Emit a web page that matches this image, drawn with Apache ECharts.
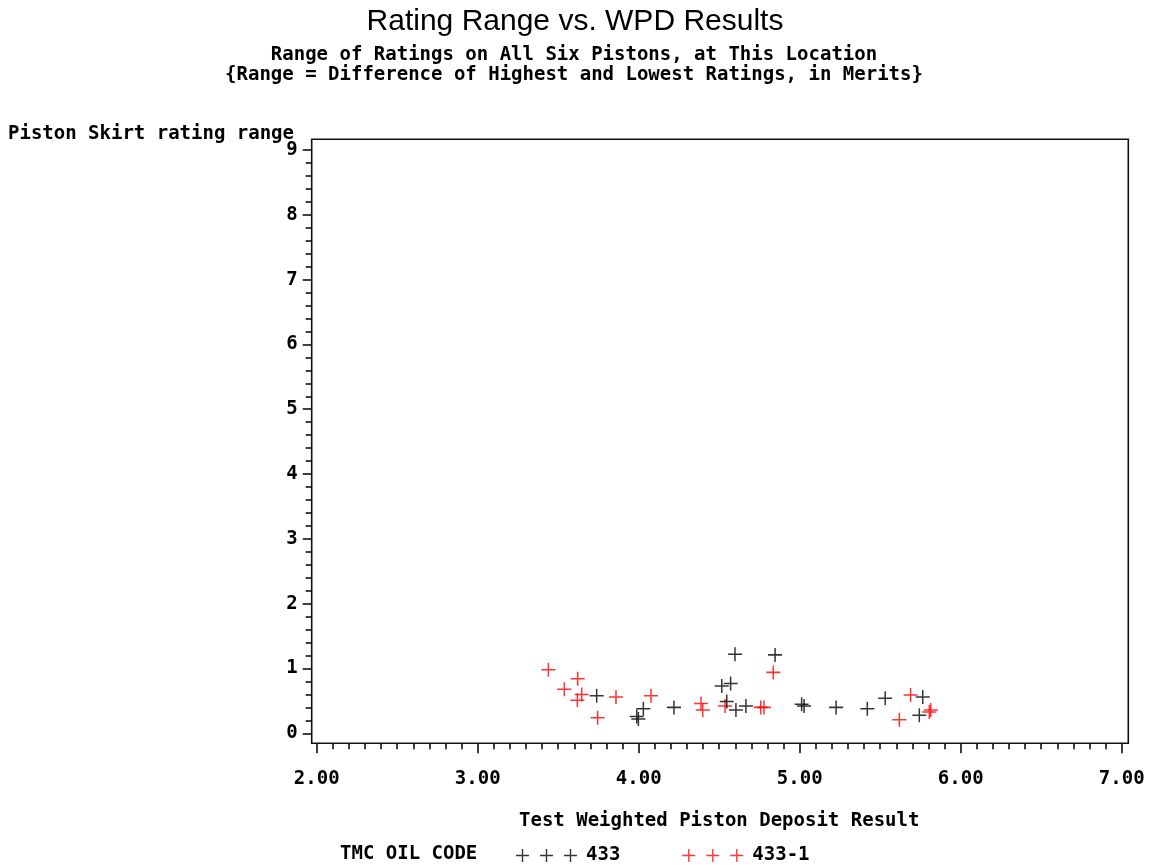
<!DOCTYPE html>
<html>
<head>
<meta charset="utf-8">
<script src="https://cdn.jsdelivr.net/npm/echarts@6/dist/echarts.min.js"></script>
<style>
  html, body { margin: 0; padding: 0; background: #fff; }
  #chart { width: 1150px; height: 865px; }
</style>
</head>
<body>
<div id="chart"></div>
<script>
// Test WPD result (x) and piston skirt rating range in merits (y), per oil code
const oil433X = [3.739, 3.988, 3.998, 4.029, 4.219, 4.516, 4.571, 4.598, 4.547, 4.604, 4.666, 4.847, 5.012, 5.027, 5.226, 5.420, 5.531, 5.764, 5.743];
const oil433Y = [0.58, 0.26, 0.22, 0.38, 0.40, 0.73, 0.77, 1.22, 0.49, 0.36, 0.42, 1.21, 0.45, 0.42, 0.40, 0.38, 0.54, 0.56, 0.28];

const oil4331X = [3.439, 3.538, 3.621, 3.646, 3.619, 3.745, 3.859, 4.076, 4.387, 4.398, 4.536, 4.836, 4.758, 4.778, 5.689, 5.619, 5.805, 5.814];
const oil4331Y = [0.98, 0.68, 0.84, 0.60, 0.51, 0.24, 0.56, 0.58, 0.46, 0.36, 0.42, 0.94, 0.40, 0.40, 0.59, 0.21, 0.33, 0.36];

const seriesNames = ['433', '433-1'];
const seriesColors = ['#000000', '#ff0000'];
const xTickLabels = ['2.00', '3.00', '4.00', '5.00', '6.00', '7.00'];
const yTickLabels = ['0', '1', '2', '3', '4', '5', '6', '7', '8', '9'];

const MONO = '"DejaVu Sans Mono", "Liberation Mono", monospace';

// Plot area
const G = { left: 316.7, right: 1121.7, top: 150, bottom: 733.3 };
// Outer frame drawn a little outside the data range
const FRAME = { x: 311.7, y: 139.3, w: 1128.3 - 311.7, h: 743.3 - 139.3 };

// Thin "+" marker
const PLUS = 'path://M5.8,0H7.2V13H5.8Z M0,5.8H13V7.2H0Z';
// Legend sample: three "+" marks in a row
const PLUS3 = 'path://M5.8,0H7.2V13H5.8Z M0,5.8H13V7.2H0Z ' +
  'M29.8,0H31.2V13H29.8Z M24,5.8H37V7.2H24Z ' +
  'M53.8,0H55.2V13H53.8Z M48,5.8H61V7.2H48Z';

function pairs(xs, ys) { return xs.map((x, i) => [x, ys[i]]); }

const chart = echarts.init(document.getElementById('chart'), null, { renderer: 'canvas' });

chart.setOption({
  backgroundColor: '#ffffff',
  animation: false,
  grid: {
    left: G.left,
    top: G.top,
    width: G.right - G.left,
    height: G.bottom - G.top,
    containLabel: false
  },
  xAxis: {
    type: 'value',
    min: 2, max: 7, interval: 1,
    offset: 10,
    name: 'Test Weighted Piston Deposit Result',
    nameLocation: 'middle',
    nameGap: 68,
    nameTextStyle: { fontFamily: MONO, fontWeight: 'bold', fontSize: 19, color: '#000' },
    axisLine: { show: false, onZero: false },
    axisTick: { show: true, length: 10, inside: false, lineStyle: { color: '#000', width: 1.5 } },
    minorTick: { show: true, splitNumber: 10, length: 6, lineStyle: { color: '#000', width: 1.5 } },
    splitLine: { show: false },
    axisLabel: {
      margin: 26,
      fontFamily: MONO, fontWeight: 'bold', fontSize: 19, color: '#000',
      formatter: v => xTickLabels[Math.round(v - 2)]
    }
  },
  yAxis: {
    type: 'value',
    min: 0, max: 9, interval: 1,
    offset: 5,
    axisLine: { show: false, onZero: false },
    axisTick: { show: true, length: 9, lineStyle: { color: '#000', width: 1.5 } },
    minorTick: { show: true, splitNumber: 5, length: 6, lineStyle: { color: '#000', width: 1.5 } },
    splitLine: { show: false },
    axisLabel: {
      margin: 14,
      fontFamily: MONO, fontWeight: 'bold', fontSize: 19, color: '#000',
      formatter: v => yTickLabels[Math.round(v)]
    }
  },
  legend: {
    data: seriesNames,
    left: 511,
    top: 841,
    icon: PLUS3,
    itemWidth: 61,
    itemHeight: 13,
    itemGap: 62,
    textStyle: { fontFamily: MONO, fontWeight: 'bold', fontSize: 19, color: '#000', padding: [0, 0, 0, 4] },
    selectedMode: false
  },
  series: [
    {
      name: seriesNames[0],
      type: 'scatter',
      data: pairs(oil433X, oil433Y),
      symbol: PLUS,
      symbolSize: 14,
      itemStyle: { color: seriesColors[0] },
      z: 3
    },
    {
      name: seriesNames[1],
      type: 'scatter',
      data: pairs(oil4331X, oil4331Y),
      symbol: PLUS,
      symbolSize: 14,
      itemStyle: { color: seriesColors[1] },
      z: 2
    }
  ],
  graphic: [
    {
      type: 'rect',
      silent: true,
      shape: { x: FRAME.x, y: FRAME.y, width: FRAME.w, height: FRAME.h },
      style: { fill: 'none', stroke: '#111', lineWidth: 1.6 },
      z: 1
    },
    {
      type: 'text',
      x: 575, y: 22,
      style: {
        text: 'Rating Range vs. WPD Results',
        font: '30px "Liberation Sans", Arial, sans-serif',
        fill: '#000', textAlign: 'center', textVerticalAlign: 'middle'
      }
    },
    {
      type: 'text',
      x: 574, y: 55,
      style: {
        text: 'Range of Ratings on All Six Pistons, at This Location',
        font: 'bold 19px ' + MONO,
        fill: '#000', textAlign: 'center', textVerticalAlign: 'middle'
      }
    },
    {
      type: 'text',
      x: 574, y: 75,
      style: {
        text: '{Range = Difference of Highest and Lowest Ratings, in Merits}',
        font: 'bold 19px ' + MONO,
        fill: '#000', textAlign: 'center', textVerticalAlign: 'middle'
      }
    },
    {
      type: 'text',
      x: 8, y: 134,
      style: {
        text: 'Piston Skirt rating range',
        font: 'bold 19px ' + MONO,
        fill: '#000', textAlign: 'left', textVerticalAlign: 'middle'
      }
    },
    {
      type: 'text',
      x: 340, y: 854,
      style: {
        text: 'TMC OIL CODE',
        font: 'bold 19px ' + MONO,
        fill: '#000', textAlign: 'left', textVerticalAlign: 'middle'
      }
    }
  ]
});
</script>
</body>
</html>
